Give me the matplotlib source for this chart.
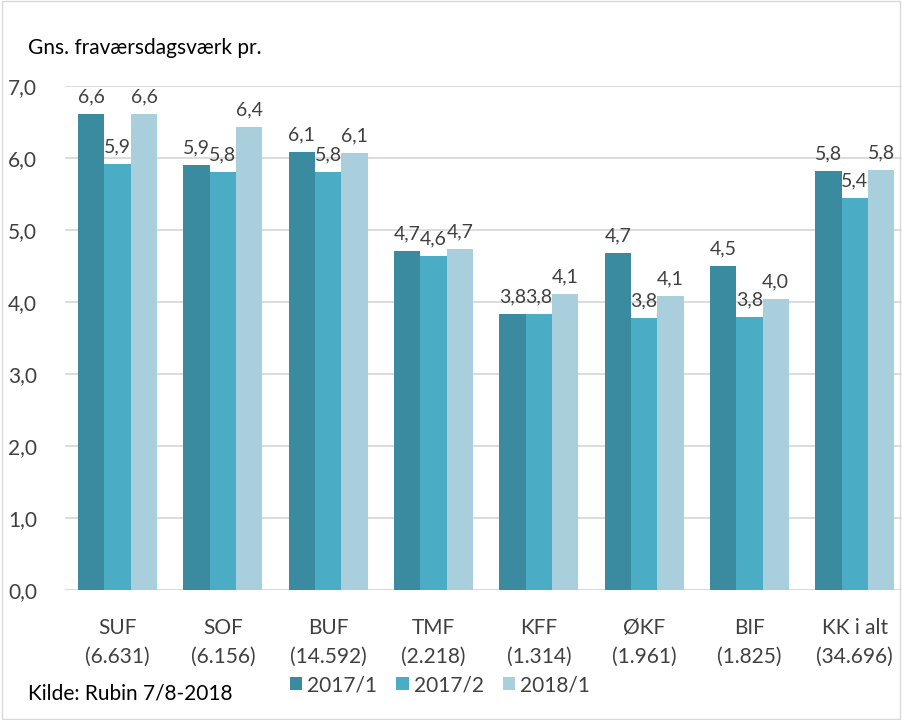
import matplotlib
matplotlib.use("Agg")
import matplotlib.pyplot as plt
import numpy as np
from matplotlib.patches import Rectangle

plt.rcParams['font.family'] = ['Lato', 'DejaVu Sans']

categories = ["SUF\n(6.631)", "SOF\n(6.156)", "BUF\n(14.592)", "TMF\n(2.218)",
              "KFF\n(1.314)", "ØKF\n(1.961)", "BIF\n(1.825)", "KK i alt\n(34.696)"]
series_names = ["2017/1", "2017/2", "2018/1"]
v2017_1 = [6.61, 5.90, 6.08, 4.71, 3.83, 4.68, 4.50, 5.82]
v2017_2 = [5.92, 5.81, 5.81, 4.64, 3.84, 3.78, 3.79, 5.44]
v2018_1 = [6.61, 6.43, 6.07, 4.73, 4.11, 4.08, 4.04, 5.84]
colors = ["#3A8BA0", "#4BACC6", "#A9CEDC"]
yticks = [0, 1, 2, 3, 4, 5, 6, 7]

fig = plt.figure(figsize=(9.02, 7.2), dpi=100)
ax = fig.add_axes([65/902, 130/720, 837/902, 504/720])
x = np.arange(len(categories))
w = 0.25
for i, (vals, c, n) in enumerate(zip([v2017_1, v2017_2, v2018_1], colors, series_names)):
    bars = ax.bar(x + (i - 1) * w, vals, width=w, color=c, label=n, zorder=3)
    for b, v in zip(bars, vals):
        ax.text(b.get_x() + b.get_width()/2, v + 0.12, f"{v:.1f}".replace('.', ','),
                ha='center', va='bottom', fontsize=14, color='#404040', zorder=4)

ax.set_xlim(-0.5, -0.5 + 837/105.3)
ax.set_ylim(0, 7)
ax.set_yticks(yticks)
ax.set_yticklabels([f"{t:.1f}".replace('.', ',') for t in yticks], fontsize=15, color='#404040')
ax.set_xticks(x)
ax.set_xticklabels(categories, fontsize=15, color='#404040', linespacing=1.55)
ax.tick_params(axis='both', length=0)
ax.tick_params(axis='y', pad=20)
ax.tick_params(axis='x', pad=20)
ax.grid(axis='y', color='#D9D9D9', linewidth=1.3, zorder=0)
for s in ax.spines.values():
    s.set_visible(False)
ax.axhline(0, color='#D9D9D9', linewidth=1.3, zorder=2)

fig.text(28/902, 1 - 48/720, "Gns. fraværsdagsværk pr.", fontsize=15, color='black', va='center', ha='left')
fig.text(28/902, 1 - 693/720, "Kilde: Rubin 7/8-2018", fontsize=15, color='black', va='center', ha='left')

leg = fig.legend(loc='center', bbox_to_anchor=(440/902, 1 - 685/720), ncol=3, frameon=False,
                 fontsize=15, handlelength=0.6, handleheight=0.6, handletextpad=0.25, columnspacing=0.9)
for t in leg.get_texts():
    t.set_color('#404040')

fig.patches.append(Rectangle((0.002, 0.002), 0.996, 0.996, transform=fig.transFigure,
                             fill=False, edgecolor='#D9D9D9', linewidth=1))

fig.savefig("out.png", dpi=100)
